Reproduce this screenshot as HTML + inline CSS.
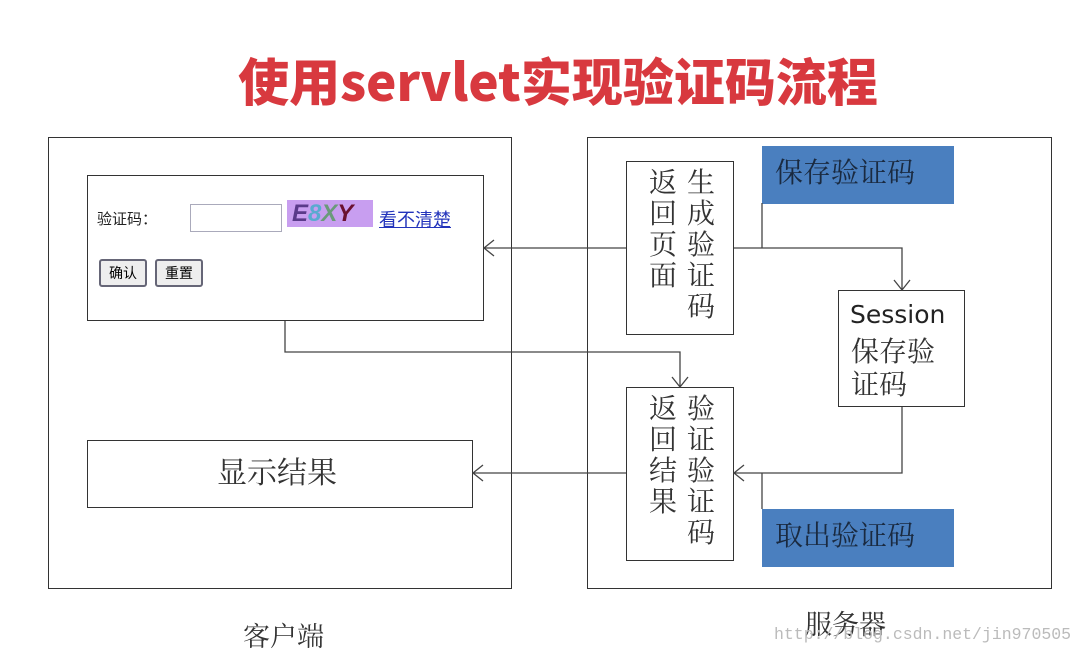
<!DOCTYPE html>
<html><head><meta charset="utf-8"><style>
body{margin:0;width:1083px;height:655px;background:#fff;position:relative;overflow:hidden;font-family:"Liberation Serif","Noto Serif CJK SC",serif}
.a{position:absolute}
.b{position:absolute;border:1.5px solid #333;box-sizing:border-box;background:#fff}
.cjk{font-family:"Noto Serif CJK SC",serif;color:#333}
</style></head><body>
<div class="a" style="left:0;top:42px;width:1083px;text-align:center;padding-left:33px;box-sizing:border-box;font:900 51px 'Noto Sans CJK SC',sans-serif;color:#d8393f">使用servlet实现验证码流程</div>
<div class="b" style="left:48px;top:137px;width:464px;height:452px"></div>
<div class="b" style="left:587px;top:137px;width:465px;height:452px"></div>
<div class="b" style="left:87px;top:175px;width:397px;height:146px"></div>
<div class="a" style="left:97px;top:208px;font:15px 'Noto Sans CJK SC',sans-serif;color:#222">验证码：</div>
<div class="a" style="left:190px;top:204px;width:92px;height:28px;border:1.5px solid #aab;box-sizing:border-box"></div>
<div class="a" style="left:287px;top:200px;width:86px;height:27px;background:#c89ef0;font:italic bold 24px 'Liberation Sans',sans-serif;line-height:27px;padding-left:5px;box-sizing:border-box"><span style="color:#5a3a8a">E</span><span style="color:#5aaad0">8</span><span style="color:#6a9a7a">X</span><span style="color:#6a1030">Y</span></div>
<div class="a" style="left:379px;top:206px;font:18px 'Noto Sans CJK SC',sans-serif;color:#2233bb;text-decoration:underline">看不清楚</div>
<div class="a" style="left:99px;top:259px;width:48px;height:28px;border:2px solid #667;border-radius:3px;background:#eee;box-sizing:border-box;font:14px 'Noto Sans CJK SC',sans-serif;text-align:center;line-height:24px">确认</div>
<div class="a" style="left:155px;top:259px;width:48px;height:28px;border:2px solid #667;border-radius:3px;background:#eee;box-sizing:border-box;font:14px 'Noto Sans CJK SC',sans-serif;text-align:center;line-height:24px">重置</div>
<div class="b" style="left:87px;top:440px;width:386px;height:68px"></div>
<div class="a cjk" style="left:217px;top:448px;font-size:30px">显示结果</div>
<div class="a" style="left:762px;top:146px;width:192px;height:58px;background:#4a7fbf"></div>
<div class="a cjk" style="left:775px;top:151px;font-size:28px;color:#1a2a40">保存验证码</div>
<div class="a" style="left:762px;top:509px;width:192px;height:58px;background:#4a7fbf"></div>
<div class="a cjk" style="left:775px;top:514px;font-size:28px;color:#1a2a40">取出验证码</div>
<div class="b" style="left:626px;top:161px;width:108px;height:174px"></div>
<div class="a cjk" style="left:649px;top:166px;width:30px;font-size:28px;line-height:31px">返回页面</div>
<div class="a cjk" style="left:687px;top:166px;width:30px;font-size:28px;line-height:31px">生成验证码</div>
<div class="b" style="left:626px;top:387px;width:108px;height:174px"></div>
<div class="a cjk" style="left:649px;top:392px;width:30px;font-size:28px;line-height:31px">返回结果</div>
<div class="a cjk" style="left:687px;top:392px;width:30px;font-size:28px;line-height:31px">验证验证码</div>
<div class="b" style="left:838px;top:290px;width:127px;height:117px"></div>
<div class="a" style="left:850px;top:300px;font:25px 'DejaVu Sans',sans-serif;color:#222">Session</div>
<div class="a cjk" style="left:851px;top:334px;width:100px;font-size:28px;line-height:33px">保存验证码</div>
<div class="a cjk" style="left:243px;top:615px;font-size:27px">客户端</div>
<div class="a cjk" style="left:805px;top:603px;font-size:27px">服务器</div>
<div class="a" style="left:774px;top:625px;font:16.5px 'Liberation Mono',monospace;color:#bbb">http://blog.csdn.net/jin970505</div>
<svg class="a" style="left:0;top:0" width="1083" height="655" fill="none" stroke="#444" stroke-width="1.3">
<path d="M762 203V248M762 473V509"/>
<path d="M734 248H902V290M894 280L902 290L910 280"/>
<path d="M902 407V473H734M744 465L734 473L744 481"/>
<path d="M626 473H473M483 465L473 473L483 481"/>
<path d="M626 248H484M494 240L484 248L494 256"/>
<path d="M285 321V352H680V387M672 377L680 387L688 377"/>
</svg>
</body></html>
